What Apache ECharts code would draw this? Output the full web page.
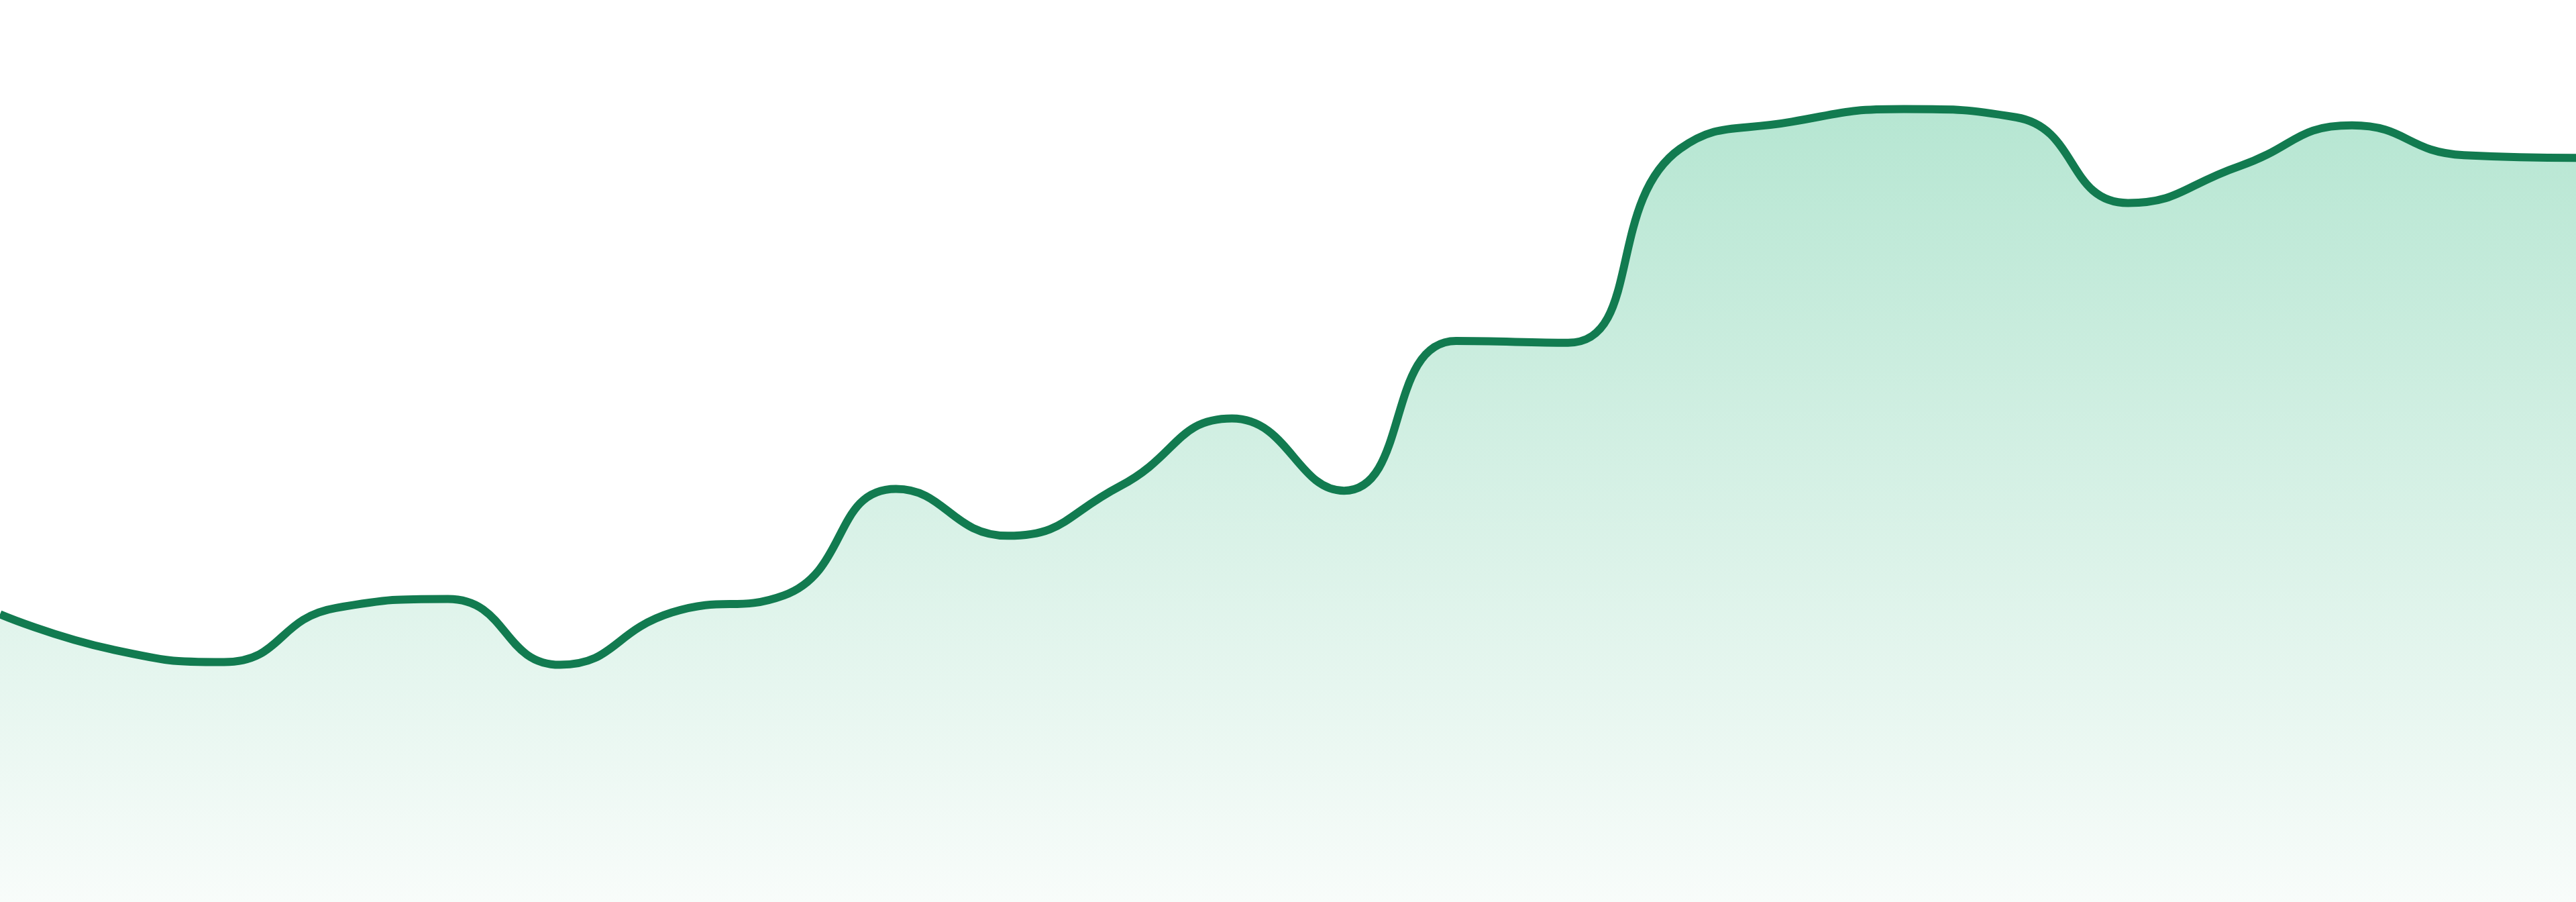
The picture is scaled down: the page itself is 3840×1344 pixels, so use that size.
<!DOCTYPE html>
<html>
<head>
<meta charset="utf-8">
<style>
  html, body { margin: 0; padding: 0; background: #ffffff; }
  #chart { width: 3840px; height: 1344px; }
</style>
<script src="https://cdn.jsdelivr.net/npm/echarts@6/dist/echarts.min.js"></script>
</head>
<body>
<div id="chart"></div>
<script>
const categories = ["P1","P2","P3","P4","P5","P6","P7","P8","P9","P10","P11","P12",
  "P13","P14","P15","P16","P17","P18","P19","P20","P21","P22","P23","P24"];
const seriesValues = [31.9, 28.0, 26.6, 32.6, 33.6, 26.3, 32.1, 34.0, 45.8, 40.6, 46.1, 53.6,
  45.6, 62.2, 62.0, 83.5, 86.5, 87.9, 87.0, 77.5, 81.6, 86.1, 82.8, 82.5];
const yMin = 0;
const yMax = 100;

const chart = echarts.init(document.getElementById('chart'), null, { renderer: 'canvas' });
chart.setOption({
  animation: false,
  backgroundColor: '#ffffff',
  grid: { left: 0, right: 0, top: 0, bottom: 0, containLabel: false },
  xAxis: {
    type: 'category',
    data: categories,
    boundaryGap: false,
    show: false
  },
  yAxis: {
    type: 'value',
    min: yMin,
    max: yMax,
    show: false
  },
  series: [{
    type: 'line',
    data: seriesValues,
    smooth: true,
    symbol: 'none',
    lineStyle: { color: '#127b50', width: 12 },
    areaStyle: {
      opacity: 1,
      color: new echarts.graphic.LinearGradient(0, 0, 0, 1, [
        { offset: 0, color: '#b6e6d2' },
        { offset: 1, color: '#f8fcfa' }
      ])
    }
  }]
});
</script>
</body>
</html>
